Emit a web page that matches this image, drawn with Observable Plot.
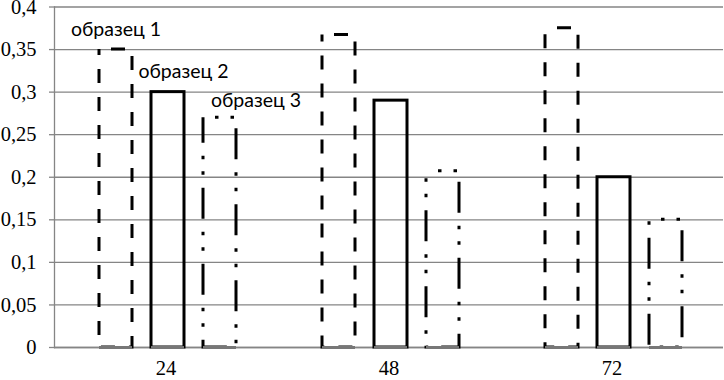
<!DOCTYPE html>
<html><head><meta charset="utf-8">
<script src="https://cdn.jsdelivr.net/npm/d3@7"></script>
<script src="https://cdn.jsdelivr.net/npm/@observablehq/plot@0.6"></script>
<style>
body{margin:0;background:#fff}
</style>
</head><body><div id="chart"></div>
<script>
const hours = [24, 48, 72];
const seriesNames = ["образец 1", "образец 2", "образец 3"];
const sample1 = [0.35, 0.367, 0.375];
const sample2 = [0.3, 0.29, 0.2];
const sample3 = [0.27, 0.207, 0.15];
const yTicks = [0, 0.05, 0.1, 0.15, 0.2, 0.25, 0.3, 0.35, 0.4];

const table = [];
[sample1, sample2, sample3].forEach((vals, si) =>
  hours.forEach((h, hi) => table.push({hour: h, series: seriesNames[si], value: vals[hi]})));
const bySeries = s => table.filter(d => d.series === s);
const firstHour = s => table.filter(d => d.series === s && d.hour === hours[0]);
const grey = "#858585";
const serif = "Liberation Serif";
const fmt = d => String(d).replace(".", ",");
const dashes = ["14,14", null, "31,13,3.5,12,3.5,13"];
const dashOffsets = [16, 0, 32];
const labelDx = [0, 15.5, 36];
const labelDy = [-14, -14, -10.5];

const chart = Plot.plot({
  width: 724, height: 380,
  marginTop: 6.5, marginBottom: 33, marginLeft: 53, marginRight: 1,
  style: {fontSize: "20px", color: "black", background: "white"},
  fx: {domain: hours, padding: 0, label: null},
  x: {domain: seriesNames, paddingInner: 0.362, paddingOuter: 0.7875, align: 0.52, axis: null},
  y: {domain: [0, 0.4], label: null},
  marks: [
    Plot.gridY(yTicks, {stroke: grey, strokeOpacity: 1, strokeWidth: 1.3}),
    Plot.ruleY([0], {stroke: grey, strokeWidth: 1.3}),
    Plot.axisY(yTicks, {tickSize: 5, tickPadding: 13, tickFormat: fmt, stroke: grey, strokeWidth: 1.3,
      fill: "black", label: null, fontSize: 20.5, fontFamily: serif}),
    Plot.frame({anchor: "left", facetAnchor: "left", stroke: grey, strokeWidth: 1.3}),
    Plot.axisFx({anchor: "bottom", tickSize: 0, tickPadding: 13, label: null, fontSize: 20.5,
      fontFamily: serif, fill: "black"}),
    ...seriesNames.map((s, i) => Plot.barY(bySeries(s), {
      fx: "hour", x: "series", y: "value", fill: "none", stroke: "black", strokeWidth: 3,
      strokeDasharray: dashes[i] || undefined, strokeDashoffset: dashOffsets[i]
    })),
    Plot.tickY(table, {fx: "hour", x: "series", y: () => 0, stroke: "#777", strokeWidth: 3}),
    ...seriesNames.map((s, i) => Plot.text(firstHour(s), {
      fx: "hour", x: "series", y: "value", text: "series", lineAnchor: "bottom",
      dx: labelDx[i], dy: labelDy[i], fontFamily: "Lato", fontSize: 19.5, fill: "black"
    }))
  ]
});
document.getElementById("chart").appendChild(chart);
</script>
</body></html>
